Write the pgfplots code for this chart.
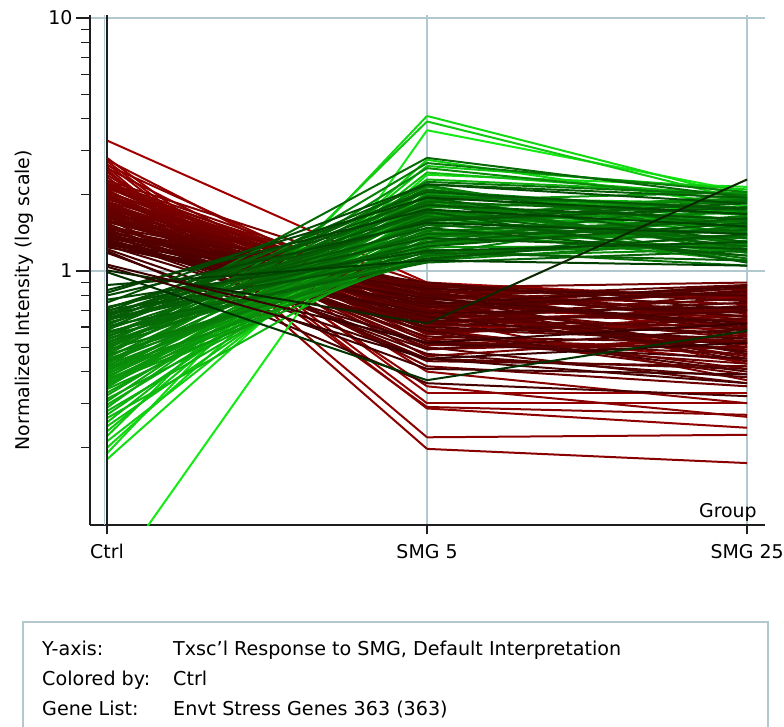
\documentclass[border=0pt]{standalone}
\usepackage{fontspec}
\setmainfont{DejaVu Sans}
\usepackage{pgfplots}
\pgfplotsset{compat=1.18}

\definecolor{gridcol}{RGB}{176,200,206}
\definecolor{axcol}{RGB}{30,30,30}

% one gene profile: Ctrl, SMG 5, SMG 25 -- coloured by the Ctrl value
\newcommand\gene[3]{\addplot[mesh, point meta={log10(#1)}] coordinates {(0,#1) (1,#2) (2,#3)};}

\begin{document}
\begin{tikzpicture}
\begin{axis}[
    at={(90bp,-525bp)}, anchor=south west,
    scale only axis, width=675bp, height=510bp,
    ymode=log,
    xmin=-0.053, xmax=2.056,
    ymin=0.099, ymax=10.28,
    axis lines=left,
    axis line style={-, draw=axcol, line width=1.6bp},
    xtick={0,1,2},
    xticklabels={Ctrl, SMG 5, SMG 25},
    ytick={1,10},
    yticklabels={1,10},
    minor ytick={0.2,0.3,0.4,0.5,0.6,0.7,0.8,0.9,2,3,4,5,6,7,8,9},
    tick align=outside,
    major tick length=14bp,
    minor tick length=9bp,
    xtick style={/pgfplots/major tick length=9bp},
    tick style={draw=axcol, line width=1.2bp},
    grid=major,
    major grid style={draw=gridcol, line width=1.3bp},
    tick label style={font=\fontsize{19}{22}\selectfont},
    /pgf/number format/assume math mode=true,
    xticklabel style={yshift=-2bp},
    label style={font=\fontsize{19}{22}\selectfont},
    xlabel={Group},
    xlabel style={at={(rel axis cs:0.988,0)}, anchor=base east, inner sep=0pt, yshift=8bp},
    ylabel={Normalized Intensity (log scale)},
    ylabel style={at={(rel axis cs:-0.098,0.441)}, anchor=center},
    colormap={ctrl}{rgb255(0cm)=(20,235,20); rgb255(8cm)=(0,50,0); rgb255(8.1cm)=(55,0,0); rgb255(16.1cm)=(225,0,0)},
    point meta min=-0.8, point meta max=0.81,
    every axis plot/.append style={line width=2bp},
]
% ---- high in Ctrl (red)
\gene{3.28}{0.90}{0.78}
\gene{2.80}{0.33}{0.33}
\gene{2.72}{0.30}{0.30}
\gene{2.65}{0.286}{0.24}
\gene{2.58}{0.22}{0.225}
\gene{2.52}{0.198}{0.174}
\gene{2.46}{0.35}{0.265}
\gene{2.40}{0.40}{0.30}
\gene{2.35}{0.29}{0.27}
\gene{2.75}{0.62}{0.52}
\gene{2.62}{0.70}{0.66}
\gene{2.55}{0.58}{0.44}
\gene{2.28}{0.89}{0.77}
\gene{2.25}{0.61}{0.59}
\gene{2.24}{0.82}{0.56}
\gene{2.22}{0.76}{0.43}
\gene{2.20}{0.70}{0.48}
\gene{2.19}{0.56}{0.67}
\gene{2.16}{0.68}{0.51}
\gene{2.15}{0.58}{0.62}
\gene{2.13}{0.83}{0.81}
\gene{2.12}{0.78}{0.60}
\gene{2.10}{0.46}{0.56}
\gene{2.07}{0.65}{0.37}
\gene{2.05}{0.72}{0.88}
\gene{2.04}{0.80}{0.74}
\gene{2.02}{0.62}{0.70}
\gene{2.01}{0.54}{0.49}
\gene{1.98}{0.74}{0.63}
\gene{1.96}{0.66}{0.52}
\gene{1.95}{0.59}{0.41}
\gene{1.93}{0.72}{0.54}
\gene{1.92}{0.86}{0.90}
\gene{1.89}{0.49}{0.53}
\gene{1.88}{0.84}{0.64}
\gene{1.86}{0.71}{0.46}
\gene{1.85}{0.68}{0.84}
\gene{1.83}{0.63}{0.71}
\gene{1.81}{0.53}{0.43}
\gene{1.80}{0.82}{0.58}
\gene{1.78}{0.42}{0.35}
\gene{1.77}{0.86}{0.62}
\gene{1.76}{0.77}{0.85}
\gene{1.75}{0.62}{0.82}
\gene{1.74}{0.57}{0.39}
\gene{1.72}{0.67}{0.64}
\gene{1.71}{0.51}{0.50}
\gene{1.70}{0.88}{0.79}
\gene{1.69}{0.79}{0.70}
\gene{1.68}{0.53}{0.47}
\gene{1.66}{0.73}{0.55}
\gene{1.65}{0.66}{0.78}
\gene{1.64}{0.60}{0.73}
\gene{1.63}{0.59}{0.53}
\gene{1.62}{0.84}{0.68}
\gene{1.60}{0.44}{0.42}
\gene{1.59}{0.77}{0.45}
\gene{1.58}{0.70}{0.50}
\gene{1.57}{0.86}{0.66}
\gene{1.56}{0.79}{0.88}
\gene{1.54}{0.50}{0.36}
\gene{1.53}{0.57}{0.65}
\gene{1.52}{0.64}{0.60}
\gene{1.51}{0.45}{0.41}
\gene{1.50}{0.87}{0.76}
\gene{1.48}{0.75}{0.44}
\gene{1.47}{0.83}{0.58}
\gene{1.46}{0.55}{0.52}
\gene{1.45}{0.65}{0.75}
\gene{1.44}{0.69}{0.86}
\gene{1.42}{0.81}{0.66}
\gene{1.41}{0.63}{0.69}
\gene{1.40}{0.47}{0.38}
\gene{1.39}{0.80}{0.47}
\gene{1.38}{0.62}{0.57}
\gene{1.36}{0.90}{0.70}
\gene{1.35}{0.76}{0.61}
\gene{1.34}{0.58}{0.40}
\gene{1.33}{0.49}{0.59}
\gene{1.32}{0.72}{0.83}
\gene{1.30}{0.66}{0.48}
\gene{1.29}{0.60}{0.54}
\gene{1.28}{0.85}{0.80}
\gene{1.27}{0.74}{0.87}
\gene{1.26}{0.52}{0.45}
\gene{1.25}{0.68}{0.72}
\gene{1.24}{0.78}{0.62}
\gene{1.22}{0.45}{0.36}
\gene{1.20}{0.36}{0.32}
\gene{1.18}{0.41}{0.39}
% ---- low in Ctrl (green), brightest first
\gene{0.058}{3.60}{2.05}
\gene{0.180}{2.40}{2.15}
\gene{0.190}{4.10}{1.95}
\gene{0.200}{2.75}{1.80}
\gene{0.212}{2.05}{1.70}
\gene{0.222}{3.90}{1.90}
\gene{0.232}{2.60}{2.10}
\gene{0.243}{1.80}{1.55}
\gene{0.252}{2.45}{1.98}
\gene{0.262}{1.35}{1.25}
\gene{0.270}{1.95}{1.85}
\gene{0.279}{1.55}{1.62}
\gene{0.288}{2.30}{2.02}
\gene{0.296}{1.72}{1.30}
\gene{0.305}{2.10}{1.58}
\gene{0.312}{1.40}{1.75}
\gene{0.322}{1.85}{1.40}
\gene{0.330}{1.62}{1.50}
\gene{0.341}{1.30}{1.44}
\gene{0.346}{2.02}{1.66}
\gene{0.348}{1.88}{1.46}
\gene{0.351}{1.54}{1.18}
\gene{0.356}{1.78}{1.92}
\gene{0.361}{1.17}{1.28}
\gene{0.366}{1.66}{1.55}
\gene{0.368}{1.24}{1.26}
\gene{0.372}{1.38}{1.35}
\gene{0.377}{1.90}{2.05}
\gene{0.382}{1.46}{1.10}
\gene{0.388}{2.15}{1.45}
\gene{0.390}{1.62}{2.00}
\gene{0.393}{1.26}{1.62}
\gene{0.399}{1.73}{1.30}
\gene{0.405}{1.58}{1.70}
\gene{0.411}{1.14}{1.22}
\gene{0.414}{1.40}{1.58}
\gene{0.417}{2.55}{1.90}
\gene{0.423}{1.33}{1.38}
\gene{0.429}{2.00}{1.52}
\gene{0.435}{1.42}{1.15}
\gene{0.438}{1.92}{1.08}
\gene{0.441}{1.62}{1.95}
\gene{0.448}{1.20}{1.25}
\gene{0.454}{1.80}{1.60}
\gene{0.461}{1.28}{1.48}
\gene{0.465}{1.16}{1.80}
\gene{0.467}{2.08}{1.72}
\gene{0.474}{2.67}{2.05}
\gene{0.481}{1.68}{1.88}
\gene{0.488}{1.10}{1.32}
\gene{0.490}{2.18}{1.38}
\gene{0.495}{1.92}{1.18}
\gene{0.502}{1.36}{1.65}
\gene{0.509}{1.56}{1.42}
\gene{0.517}{2.25}{2.00}
\gene{0.520}{1.48}{1.92}
\gene{0.524}{1.22}{1.05}
\gene{0.532}{1.76}{1.28}
\gene{0.539}{1.44}{1.58}
\gene{0.547}{1.98}{1.78}
\gene{0.550}{1.85}{1.22}
\gene{0.555}{1.15}{1.38}
\gene{0.563}{1.65}{1.12}
\gene{0.571}{1.30}{1.90}
\gene{0.575}{1.10}{1.52}
\gene{0.580}{2.80}{1.95}
\gene{0.588}{1.52}{1.35}
\gene{0.596}{1.88}{1.68}
\gene{0.605}{1.08}{1.20}
\gene{0.610}{2.10}{1.48}
\gene{0.614}{1.70}{1.25}
\gene{0.623}{1.40}{1.45}
\gene{0.632}{2.20}{1.95}
\gene{0.641}{1.18}{1.10}
\gene{0.645}{1.30}{1.62}
\gene{0.650}{1.60}{1.85}
\gene{0.660}{1.95}{1.30}
\gene{0.670}{1.25}{1.55}
\gene{0.675}{1.72}{1.08}
\gene{0.680}{1.48}{1.15}
\gene{0.690}{2.05}{1.75}
\gene{0.700}{1.12}{1.40}
\gene{0.710}{1.82}{1.60}
\gene{0.715}{1.58}{1.78}
\gene{0.720}{1.35}{1.22}
\gene{0.750}{2.20}{1.85}
\gene{0.770}{1.20}{1.30}
\gene{0.800}{1.55}{1.40}
\gene{0.820}{1.95}{1.68}
\gene{0.840}{1.75}{1.50}
\gene{0.880}{1.10}{1.05}
% ---- close to 1 in Ctrl
\gene{1.04}{0.45}{0.52}
\gene{0.99}{0.37}{0.58}
\gene{1.005}{0.62}{2.30}
\gene{1.06}{0.52}{0.62}
% Ctrl group line
\draw[gridcol, line width=1.2bp] ([xshift=-2.2bp]axis cs:0,0.099) -- ([xshift=-2.2bp]axis cs:0,10.28);
\draw[axcol, line width=2bp] (axis cs:0,0.099) -- (axis cs:0,10.28);
\end{axis}

% information box
\begin{scope}[font=\fontsize{19.2}{22}\selectfont]
\draw[gridcol, line width=1.3bp] (23bp,-622bp) rectangle (768bp,-760bp);
\node[anchor=base west, inner sep=0pt] at (42bp,-655bp) {Y-axis:};
\node[anchor=base west, inner sep=0pt] at (173bp,-655bp) {Txsc'l Response to SMG, Default Interpretation};
\node[anchor=base west, inner sep=0pt] at (42bp,-685bp) {Colored by:};
\node[anchor=base west, inner sep=0pt] at (173bp,-685bp) {Ctrl};
\node[anchor=base west, inner sep=0pt] at (42bp,-715bp) {Gene List:};
\node[anchor=base west, inner sep=0pt] at (173bp,-715bp) {Envt Stress Genes 363 (363)};
\end{scope}

\pgfresetboundingbox
\path[use as bounding box] (0,0) rectangle (784bp,-727bp);
\end{tikzpicture}
\end{document}
